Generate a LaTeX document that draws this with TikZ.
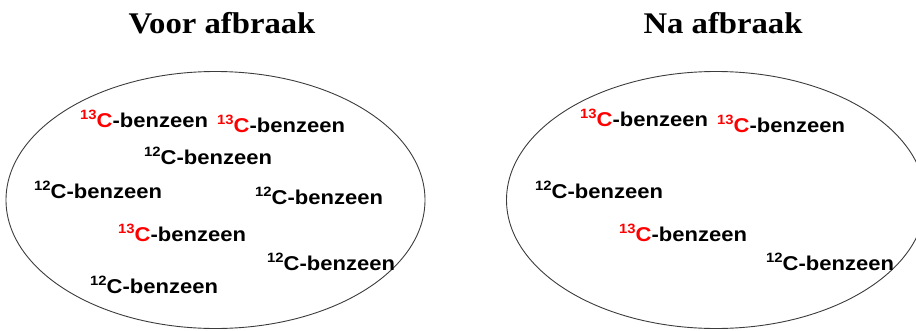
\documentclass[tikz,border=0pt]{standalone}
\usepackage{fontspec}
\setmainfont{Liberation Serif}
\newfontfamily\labelfont{Liberation Sans}
\usetikzlibrary{shapes.geometric}
\definecolor{isored}{RGB}{255,0,0}
\definecolor{rimgray}{RGB}{60,60,60}

% isotope label: superscript mass number + C, then "-benzeen"
\newcommand\benz[2]{\scalebox{1.1}[1]{\labelfont\bfseries\fontsize{20}{20}\selectfont
  \textcolor{#1}{\raisebox{0.38em}{\fontsize{13.5}{13.5}\selectfont #2}C}-benzeen}}

\tikzset{
  vessel/.style={ellipse, draw=rimgray, line width=0.9pt, inner sep=0pt,
                 minimum width=419pt, minimum height=257pt},
  heading/.style={anchor=base, inner sep=0pt,
                  font=\bfseries\fontsize{30}{30}\selectfont},
  lab/.style={anchor=base west, inner sep=0pt}
}

\begin{document}
\begin{tikzpicture}[x=1pt, y=-1pt]
\useasboundingbox (0,0) rectangle (916,330);

% headings
\node[heading] (voor) at (222,33) {\scalebox{1.09}[1]{Voor afbraak}};
\node[heading] (na)   at (723,33) {\scalebox{1.09}[1]{Na afbraak}};

% the two mixtures
\node[vessel] (before) at (215.5,200) {};
\node[vessel] (after)  at (716,200) {};

% before degradation
\node[lab] (b1) at (80,127)  {\benz{isored}{13}};
\node[lab] (b2) at (217,132) {\benz{isored}{13}};
\node[lab] (b3) at (144,164) {\benz{black}{12}};
\node[lab] (b4) at (34,198)  {\benz{black}{12}};
\node[lab] (b5) at (255,204) {\benz{black}{12}};
\node[lab] (b6) at (118,241) {\benz{isored}{13}};
\node[lab] (b7) at (267,270) {\benz{black}{12}};
\node[lab] (b8) at (90,293)  {\benz{black}{12}};

% after degradation
\node[lab] (a1) at (580,126) {\benz{isored}{13}};
\node[lab] (a2) at (717,132) {\benz{isored}{13}};
\node[lab] (a3) at (535,198) {\benz{black}{12}};
\node[lab] (a4) at (619,241) {\benz{isored}{13}};
\node[lab] (a5) at (766,270) {\benz{black}{12}};
\end{tikzpicture}
\end{document}
